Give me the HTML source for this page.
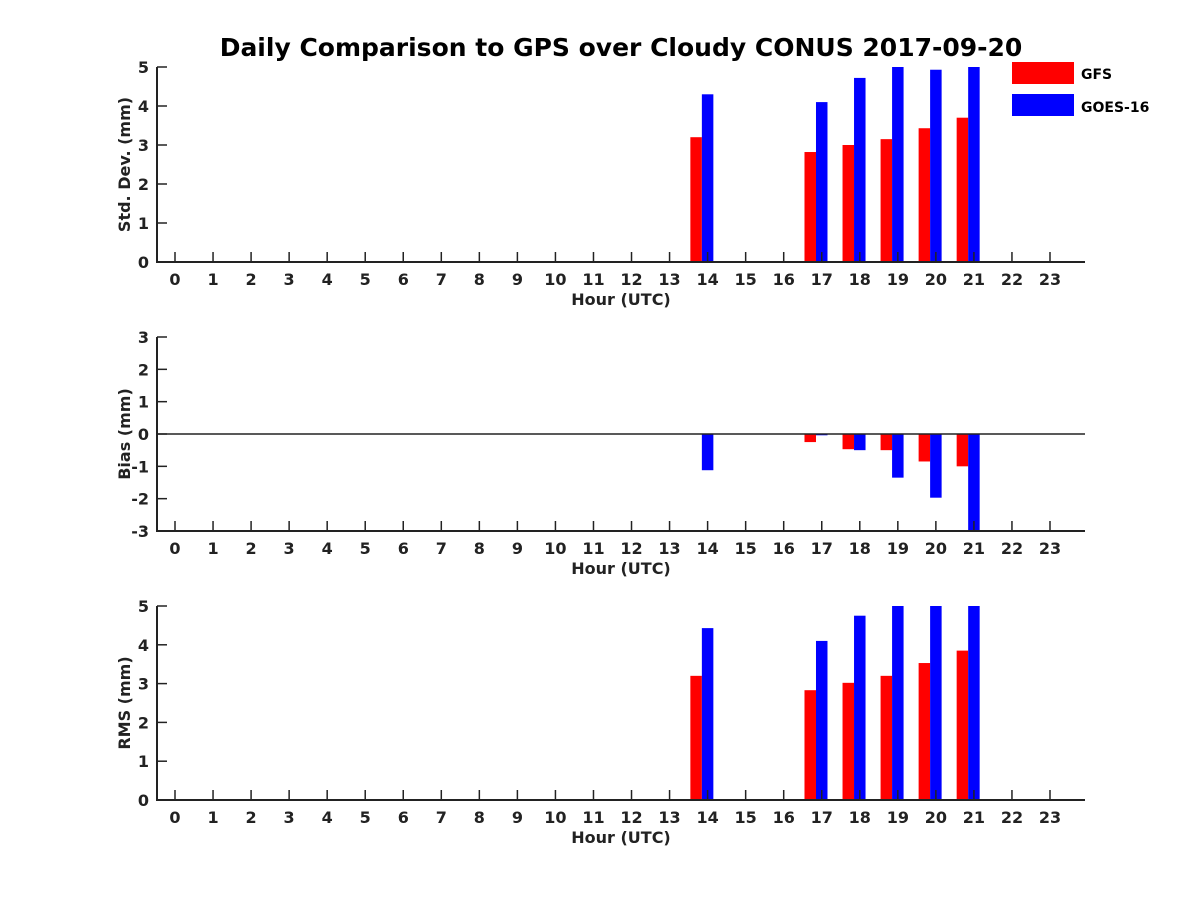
<!DOCTYPE html>
<html><head><meta charset="utf-8"><style>
body{margin:0;background:#fff;}
svg{font-family:"DejaVu Sans","Liberation Sans",sans-serif;font-weight:bold;}
</style></head><body>
<svg id="c" width="1200" height="900" viewBox="0 0 1200 900">
<text x="621" y="56" text-anchor="middle" font-size="25" fill="#000">Daily Comparison to GPS over Cloudy CONUS 2017-09-20</text>
<g>
<rect x="1012" y="62" width="62" height="22" fill="#f00"/>
<text x="1081" y="79" font-size="14" fill="#000">GFS</text>
<rect x="1012" y="94" width="62" height="22" fill="#00f"/>
<text x="1081" y="112" font-size="14" fill="#000">GOES-16</text>
</g>
</svg>
<script>
const hours = [14, 17, 18, 19, 20, 21];
const stdGFS = [3.2, 2.82, 3.0, 3.15, 3.43, 3.7];
const stdGOES = [4.3, 4.1, 4.72, 5.0, 4.93, 5.0];
const biasGFS = [0, -0.25, -0.47, -0.5, -0.85, -1.0];
const biasGOES = [-1.12, -0.04, -0.5, -1.35, -1.97, -3.0];
const rmsGFS = [3.2, 2.83, 3.02, 3.2, 3.53, 3.85];
const rmsGOES = [4.43, 4.1, 4.75, 5.0, 5.0, 5.0];
const stdTicks = [0, 1, 2, 3, 4, 5];
const biasTicks = [-3, -2, -1, 0, 1, 2, 3];
const rmsTicks = [0, 1, 2, 3, 4, 5];
const xTicks = Array.from({length: 24}, (_, i) => i);

const svg = document.getElementById('c');
const NS = 'http://www.w3.org/2000/svg';
function mk(tag, attrs, parent) {
  const e = document.createElementNS(NS, tag);
  for (const k in attrs) e.setAttribute(k, attrs[k]);
  (parent || svg).appendChild(e);
  return e;
}
const xL = 157, xR = 1085;
const xs = h => 175 + h * (875 / 23);
const bw = 11.5;

function panel(name, top, bottom, ymin, ymax, ticks, ylabel, gfs, goes, zeroLine) {
  const g = mk('g', {});
  
  
  const ys = v => bottom - (v - ymin) / (ymax - ymin) * (bottom - top);
  const base = ys(Math.max(ymin, Math.min(ymax, 0)));
  hours.forEach((h, i) => {
    const c = xs(h);
    [[gfs[i], '#f00', c - 1.5 * bw, 'gfs'], [goes[i], '#00f', c - bw / 2, 'goes']].forEach(([v, col, x, s]) => {
      if (v === 0) return;
      const y = ys(Math.max(ymin, Math.min(ymax, v)));
      const r = mk('rect', {x: x, y: Math.min(y, base), width: bw, height: Math.abs(base - y), fill: col}, g);
      
      
    });
  });
  if (zeroLine) {
    const z = mk('line', {x1: xL, x2: xR, y1: ys(0), y2: ys(0), stroke: '#222', 'stroke-width': 1.5}, g);
    
    
  }
  const ax = mk('path', {d: `M${xL},${top} L${xL},${bottom} L${xR},${bottom}`, stroke: '#222', 'stroke-width': 2, fill: 'none'}, g);
  
  
  ticks.forEach(t => {
    const y = ys(t);
    mk('line', {x1: xL, x2: xL + 10, y1: y, y2: y, stroke: '#222', 'stroke-width': 1.5}, g);
    const tx = mk('text', {x: xL - 8, y: y + 6, 'text-anchor': 'end', 'font-size': 16, fill: '#222'}, g);
    tx.textContent = t;
    
    
  });
  xTicks.forEach(h => {
    const x = xs(h);
    mk('line', {x1: x, x2: x, y1: bottom, y2: bottom - 10, stroke: '#222', 'stroke-width': 1.5}, g);
    const tx = mk('text', {x: x, y: bottom + 23, 'text-anchor': 'middle', 'font-size': 16, fill: '#222'}, g);
    tx.textContent = h;
    
    
  });
  const xl = mk('text', {x: 621, y: bottom + 43, 'text-anchor': 'middle', 'font-size': 16, fill: '#222'}, g);
  xl.textContent = 'Hour (UTC)';
  
  
  const cy = (top + bottom) / 2;
  const yl = mk('text', {x: 0, y: 0, 'text-anchor': 'middle', 'font-size': 16, fill: '#222', transform: `translate(130,${cy}) rotate(-90)`}, g);
  yl.textContent = ylabel;
  
  
}
panel('std', 67, 262, 0, 5, stdTicks, 'Std. Dev. (mm)', stdGFS, stdGOES, false);
panel('bias', 337, 531, -3, 3, biasTicks, 'Bias (mm)', biasGFS, biasGOES, true);
panel('rms', 606, 800, 0, 5, rmsTicks, 'RMS (mm)', rmsGFS, rmsGOES, false);
</script>
</body></html>
